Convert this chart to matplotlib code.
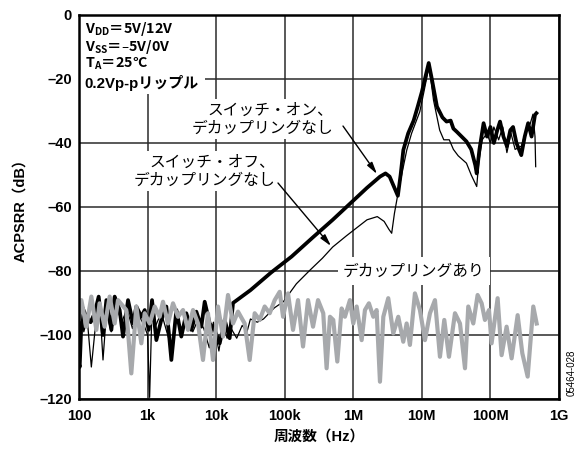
import numpy as np
import matplotlib
matplotlib.use('Agg')
import matplotlib.pyplot as plt
from matplotlib.patches import Rectangle
from matplotlib.ticker import NullLocator

plt.rcParams['font.family'] = ['Liberation Sans', 'Noto Sans CJK JP', 'DejaVu Sans']
plt.rcParams['axes.unicode_minus'] = False

# スイッチ・オン、デカップリングなし (log10 周波数, dB)
on_logf = [2.0, 2.01, 2.044, 2.107, 2.17, 2.228, 2.287, 2.35, 2.399, 2.472, 2.52, 2.593,
           2.642, 2.715, 2.788, 2.836, 2.909, 2.958, 3.016, 3.065, 3.128, 3.20, 3.274,
           3.347, 3.42, 3.492, 3.565, 3.638, 3.711, 3.784, 3.833, 3.906, 3.979, 4.052,
           4.124, 4.197, 4.246,
           4.5, 4.8, 5.1, 5.41, 5.7, 6.0, 6.2, 6.39, 6.47, 6.53, 6.6, 6.65, 6.69, 6.73,
           6.8, 6.88, 6.94, 7.0, 7.05, 7.1, 7.15, 7.22, 7.30, 7.36, 7.42, 7.46, 7.51,
           7.58, 7.65, 7.72, 7.78, 7.80, 7.84, 7.90, 7.95, 8.0, 8.05, 8.10, 8.14, 8.19,
           8.24, 8.29, 8.33, 8.38, 8.45, 8.50, 8.55, 8.60, 8.65, 8.67]
on_db = [-109, -110, -91.1, -94.3, -96, -93.2, -88.0, -100, -89.1, -98.4, -88.0, -92.2,
         -100.5, -89.1, -96.4, -91.1, -94.3, -92.2, -98.4, -89.1, -101.6, -95.3, -91.1,
         -107.8, -92.2, -100.5, -93.2, -98.4, -92.7, -97.4, -89.6, -96.4, -98.4, -102.6,
         -95.3, -101.0, -90.0,
         -86, -80.5, -75.5, -69.5, -64, -58, -54, -50.5, -49.5, -50.5, -54, -56.5, -50,
         -42.2, -37, -33, -28.6, -24, -19.5, -15, -20.5, -28.6, -32, -33.3, -33, -35.5,
         -36.5, -38, -39.5, -42, -47, -49.5, -42, -33.8, -38, -35, -40, -36, -33.3, -38,
         -41, -36, -35, -40, -43.8, -38, -33.8, -38, -31.2, -30.7]

# スイッチ・オフ、デカップリングなし
off_logf = [2.0, 2.034, 2.07, 2.12, 2.18, 2.25, 2.30, 2.35, 2.40, 2.47, 2.55, 2.62, 2.70,
            2.78, 2.85, 2.95, 3.0, 3.03, 3.06, 3.12, 3.2, 3.28, 3.35, 3.42, 3.5, 3.58,
            3.66, 3.74, 3.82, 3.9, 3.96, 4.04, 4.1, 4.16, 4.22, 4.3, 4.38, 4.45, 4.5,
            4.6, 4.69, 4.85, 4.98, 5.17, 5.37, 5.55, 5.7, 5.9, 6.05, 6.2, 6.35, 6.45,
            6.52, 6.56, 6.6, 6.65, 6.69, 6.78, 6.85, 6.97, 7.03, 7.1, 7.13, 7.17, 7.26,
            7.32, 7.40, 7.46, 7.53, 7.65, 7.72, 7.80, 7.83, 7.88, 7.95, 8.0, 8.05, 8.12,
            8.18, 8.24, 8.3, 8.36, 8.45, 8.52, 8.58, 8.62, 8.65, 8.66]
off_db = [-108, -92, -99, -95, -110, -95, -90, -107.8, -93, -99, -91, -96, -92, -98, -93,
          -97, -100, -119.5, -95, -97, -93, -99, -104, -95, -98, -94, -99, -95, -98, -104,
          -96, -105, -97, -101, -98, -101, -97, -99, -95, -96, -95, -91.5, -89.6, -84,
          -79.7, -76, -72.5, -69, -66.5, -64, -63, -64.5, -67, -68.2, -62, -56, -51.6,
          -42.2, -37, -30.2, -24, -16.5, -20, -26.6, -36, -39, -39, -42, -44, -46.3, -50,
          -53.6, -46, -39, -37, -40, -35, -39, -35, -43, -37, -42, -41, -36, -34, -31,
          -38, -47.4]

# デカップリングあり
dec_logf = [2.0, 2.034, 2.107, 2.18, 2.253, 2.30, 2.374, 2.447, 2.52, 2.569, 2.69, 2.763,
            2.836, 2.909, 2.958, 3.031, 3.104, 3.176, 3.225, 3.298, 3.371, 3.444, 3.517,
            3.59, 3.663, 3.736, 3.808, 3.881, 3.954, 4.027, 4.10, 4.173, 4.246, 4.319,
            4.416, 4.489, 4.562, 4.635, 4.708, 4.781, 4.854, 4.927, 4.976, 5.048, 5.121,
            5.194, 5.267, 5.34, 5.413, 5.486, 5.562, 5.611, 5.66, 5.708, 5.767, 5.83,
            5.878, 5.951, 6.0, 6.049, 6.122, 6.17, 6.228, 6.292, 6.34, 6.389, 6.438,
            6.51, 6.583, 6.656, 6.729, 6.778, 6.826, 6.899, 6.972, 7.045, 7.118, 7.191,
            7.264, 7.327, 7.395, 7.483, 7.556, 7.629, 7.677, 7.75, 7.813, 7.872, 7.92,
            7.979, 8.017, 8.105, 8.163, 8.236, 8.309, 8.397, 8.465, 8.543, 8.625, 8.674]
dec_db = [-95, -89.1, -97.4, -88.0, -98.4, -90.1, -97.4, -88.0, -96.4, -89.1, -92.2,
          -112.0, -91.1, -102.6, -93.2, -96.4, -91.1, -94.3, -89.6, -96.4, -90.1, -94.3,
          -92.2, -98.4, -92.2, -96.4, -107.8, -93.2, -107.8, -91.1, -100.5, -87.5, -96.4,
          -92.7, -96.4, -107.8, -93.2, -95.3, -91.1, -93.2, -89.1, -86.5, -94.3, -87.0,
          -98.4, -89.1, -103.6, -89.1, -97.4, -89.1, -93.2, -110.4, -94.3, -95.3, -108.3,
          -91.7, -94.3, -89.1, -96.4, -91.1, -101.6, -92.2, -90.1, -94.3, -92.2, -114.6,
          -94.3, -88.5, -99.5, -94.3, -102.1, -96.4, -103.1, -87.0, -92.2, -101.6, -93.2,
          -89.1, -106.8, -95.3, -106.8, -93.2, -96.4, -110.4, -91.1, -96.4, -87.5, -90.1,
          -95.3, -92.2, -102.6, -88.5, -106.3, -97.4, -107.3, -93.8, -105.7, -113.0,
          -91.1, -96.4]

xtick_labels = ['100', '1k', '10k', '100k', '1M', '10M', '100M', '1G']
ytick_values = [0, -20, -40, -60, -80, -100, -120]

fig = plt.figure(figsize=(5.84, 4.59), dpi=100)
ax = fig.add_axes([79 / 584, 1 - 399 / 459, 480 / 584, 384 / 459])

ax.plot(10 ** np.array(off_logf), off_db, color='black', lw=0.9, zorder=2)
ax.plot(10 ** np.array(on_logf), on_db, color='black', lw=2.7, zorder=2.1,
        solid_joinstyle='round')
ax.plot(10 ** np.array(dec_logf), dec_db, color='#a7a9ac', lw=3.0, zorder=2.2,
        solid_joinstyle='round')

ax.set_xscale('log')
ax.set_xlim(1e2, 1e9)
ax.set_ylim(-120, 0)
ax.set_xticks(10.0 ** np.arange(2, 10))
ax.set_xticklabels(xtick_labels)
ax.xaxis.set_minor_locator(NullLocator())
ax.set_yticks(ytick_values)
ax.set_yticklabels([str(v).replace('-', '–') for v in ytick_values])
ax.tick_params(length=0, labelsize=10.5)
ax.tick_params(axis='x', pad=7)
ax.tick_params(axis='y', pad=5)
for lab in ax.get_xticklabels() + ax.get_yticklabels():
    lab.set_fontweight('bold')

ax.set_axisbelow(True)
ax.grid(True, which='major', color='#2b2b2b', lw=1.1)
for sp in ax.spines.values():
    sp.set_linewidth(1.8)
    sp.set_color('black')

# 条件表示 (左上)
ax.add_patch(Rectangle((0, 0.7943), 0.2625, 0.2057, transform=ax.transAxes,
                       fc='white', ec='none', zorder=1))
cond = [r'$\mathregular{V_{DD}}$＝5V/12V', r'$\mathregular{V_{SS}}$＝–5V/0V',
        r'$\mathregular{T_{A}}$＝25°C']
cond_y = [0.9635, 0.916, 0.872]
for s, yy in zip(cond, cond_y):
    ax.text(0.012, yy, s, transform=ax.transAxes, ha='left', va='center',
            fontsize=10.3, fontweight='bold', family='Noto Sans CJK JP')
ax.text(0.012, 0.823, '0.2Vp-pリップル', transform=ax.transAxes, ha='left',
        va='center', fontsize=10.8, fontweight='bold')

jp = dict(fontsize=11.3, family=['Noto Sans CJK JP', 'DejaVu Sans'], linespacing=1.1,
          bbox=dict(fc='white', ec='none', pad=1.5))
arrow = dict(arrowstyle='-|>,head_length=0.7,head_width=0.18', color='black', lw=1,
             shrinkA=0, shrinkB=0)

ax.text(10 ** 5.71, -32.5, 'スイッチ・オン、\nデカップリングなし', ha='right',
        va='center', multialignment='right', **jp)
ax.annotate('', xy=(10 ** 6.346, -49.7), xytext=(10 ** 5.85, -34.7), arrowprops=arrow)

ax.text(10 ** 4.86, -48.8, 'スイッチ・オフ、\nデカップリングなし', ha='right',
        va='center', multialignment='right', **jp)
ax.annotate('', xy=(10 ** 5.675, -72.2), xytext=(10 ** 4.902, -52.5), arrowprops=arrow)

dec_style = dict(jp)
dec_style['bbox'] = dict(fc='white', ec='none', pad=4)
ax.text(10 ** 6.885, -80, 'デカップリングあり', ha='center', va='center', **dec_style)

fig.text(20 / 584, 1 - 207 / 459, 'ACPSRR（dB）', rotation=90, ha='center',
         va='center', fontsize=10.5, fontweight='bold')
fig.text(319 / 584, 1 - 437 / 459, '周波数（Hz）', ha='center', va='center',
         fontsize=10.5, fontweight='bold')
fig.text(572 / 584, 1 - 373 / 459, '05464-028', rotation=90, ha='center', va='center',
         fontsize=7)

fig.savefig('out.png', dpi=100)
